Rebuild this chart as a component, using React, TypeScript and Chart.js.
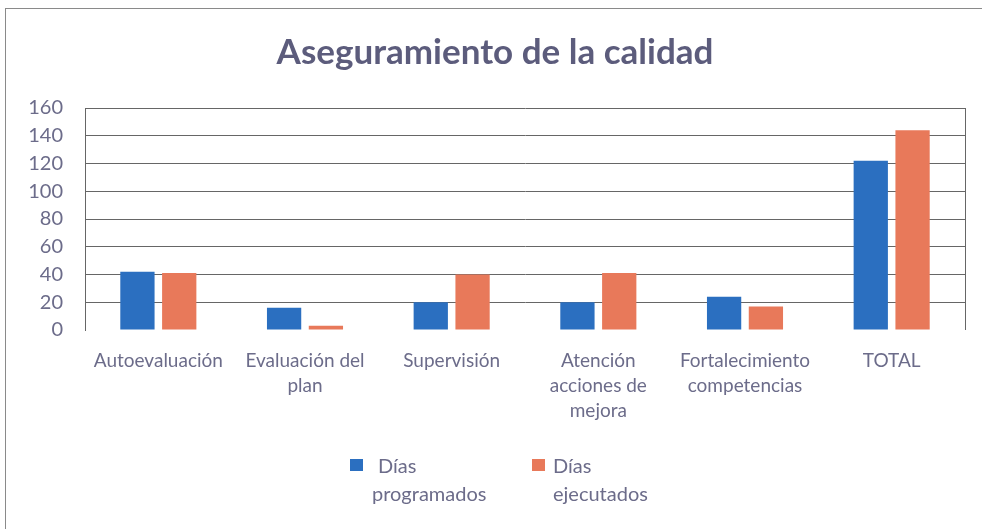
import React, { useEffect, useRef } from "react";
import { Chart, registerables } from "chart.js";

Chart.register(...registerables);

const chartTitle = "Aseguramiento de la calidad";
const categories: (string | string[])[] = [
  "Autoevaluación",
  ["Evaluación del", "plan"],
  "Supervisión",
  ["Atención", "acciones de", "mejora"],
  ["Fortalecimiento", "competencias"],
  "TOTAL",
];
const seriesNames: string[][] = [
  ["Días", "programados"],
  ["Días", "ejecutados"],
];
const seriesColors = ["#2b6fc0", "#e8795a"];
const diasProgramados = [42, 16, 20, 20, 24, 122];
const diasEjecutados = [41, 3, 40, 41, 17, 144];
const yTicks = [0, 20, 40, 60, 80, 100, 120, 140, 160];

const TEXT = "#6c6c8a";
const FONT = "Lato, 'Open Sans', sans-serif";

const rightBorder = {
  id: "rightBorder",
  afterDraw(chart: any) {
    const { ctx, chartArea } = chart;
    ctx.save();
    ctx.strokeStyle = "#666";
    ctx.lineWidth = 1;
    ctx.beginPath();
    ctx.moveTo(Math.round(chartArea.right) + 0.5, chartArea.top);
    ctx.lineTo(Math.round(chartArea.right) + 0.5, chartArea.bottom);
    ctx.stroke();
    ctx.restore();
  },
};

export default function App() {
  const ref = useRef<HTMLCanvasElement | null>(null);
  useEffect(() => {
    if (!ref.current) return;
    const chart = new Chart(ref.current, {
      type: "bar",
      data: {
        labels: categories,
        datasets: [
          {
            label: seriesNames[0].join(" "),
            data: diasProgramados,
            backgroundColor: seriesColors[0],
            categoryPercentage: 0.57,
            barPercentage: 0.82,
          },
          {
            label: seriesNames[1].join(" "),
            data: diasEjecutados,
            backgroundColor: seriesColors[1],
            categoryPercentage: 0.57,
            barPercentage: 0.82,
          },
        ],
      },
      options: {
        animation: false,
        responsive: false,
        maintainAspectRatio: false,
        layout: { padding: { left: 25, right: 17, top: 10, bottom: 99 } },
        plugins: {
          title: {
            display: true,
            text: chartTitle,
            color: "#5c5c7c",
            font: { family: FONT, size: 35, weight: "bold", lineHeight: 1.2 },
            padding: { top: 22, bottom: 34 },
          },
          legend: { display: false },
          tooltip: { enabled: false },
        },
        scales: {
          x: {
            grid: { display: false, drawTicks: false },
            border: { display: false },
            ticks: {
              color: TEXT,
              font: { family: FONT, size: 19, lineHeight: 1.3 },
              maxRotation: 0,
              autoSkip: false,
              padding: 19,
            },
            afterFit: (s: any) => {
              s.height = 100;
            },
          },
          y: {
            min: 0,
            max: 160,
            afterBuildTicks: (s: any) => {
              s.ticks = yTicks.map((v) => ({ value: v }));
            },
            grid: {
              drawTicks: false,
              color: (c: any) => (c.tick && c.tick.value === 0 ? "rgba(0,0,0,0)" : "#666"),
            },
            border: { display: true, color: "#666" },
            ticks: {
              color: TEXT,
              font: { family: FONT, size: 20 },
              padding: 22,
            },
            afterFit: (s: any) => {
              s.width = 60;
            },
          },
        },
      },
      plugins: [rightBorder],
    } as any);
    return () => chart.destroy();
  }, []);

  const legendWidths = [182, 140];
  const textIndent = [6, 0];
  const textOffset = [22, 21];
  return (
    <div style={{ position: "absolute", left: 0, top: 0, width: 982, height: 529, background: "#fff" }}>
      <div
        style={{
          position: "absolute",
          left: 5,
          top: 8,
          right: 0,
          bottom: 0,
          borderLeft: "1px solid #8a8a8a",
          borderTop: "1px solid #8a8a8a",
        }}
      />
      <canvas ref={ref} width={982} height={529} style={{ position: "absolute", left: 0, top: 0 }} />
      <div
        style={{
          position: "absolute",
          left: 350,
          top: 451,
          display: "flex",
          fontFamily: FONT,
          fontSize: 20,
          lineHeight: "28px",
          color: TEXT,
        }}
      >
        {seriesNames.map((name, i) => (
          <div key={i} style={{ position: "relative", width: legendWidths[i], height: 56 }}>
            <span
              style={{
                position: "absolute",
                left: 0,
                top: 8,
                width: 13,
                height: 12,
                background: seriesColors[i],
              }}
            />
            <div style={{ position: "absolute", left: textOffset[i], top: 0, whiteSpace: "nowrap" }}>
              <div style={{ textIndent: textIndent[i] }}>{name[0]}</div>
              <div>{name[1]}</div>
            </div>
          </div>
        ))}
      </div>
    </div>
  );
}
